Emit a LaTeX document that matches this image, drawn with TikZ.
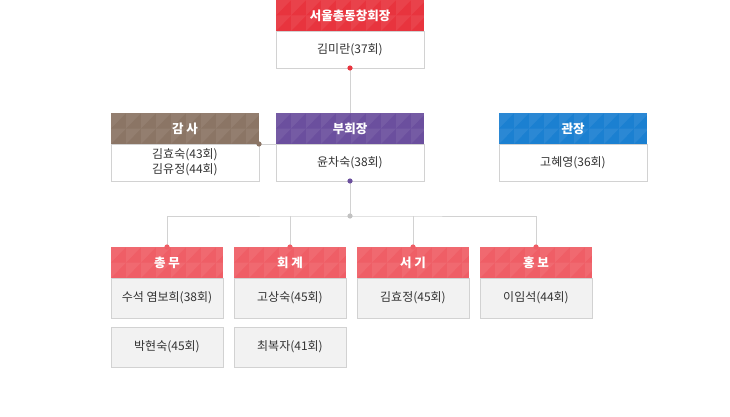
\documentclass[tikz,border=0pt]{standalone}
\usepackage{fontspec}
\setmainfont{Noto Sans CJK KR}
\usetikzlibrary{positioning,calc}
\definecolor{chairred}{RGB}{232,52,62}
\definecolor{auditbrown}{RGB}{139,117,101}
\definecolor{vicepurple}{RGB}{107,79,158}
\definecolor{directorblue}{RGB}{27,128,209}
\definecolor{teampink}{RGB}{239,94,102}
\definecolor{linegray}{RGB}{210,210,210}
\definecolor{boxgray}{RGB}{242,242,242}
\definecolor{namegray}{RGB}{51,51,51}

\tikzset{
  headbox/.style={minimum height=31pt, inner sep=0pt, outer sep=0pt,
    text=white, font=\fontsize{12.5}{14}\selectfont\bfseries,
    path picture={
      \foreach \i in {0,...,10}
        \foreach \j in {0,1}{
          \fill[white, opacity=0.07]
            ($(path picture bounding box.north west)+(\i*15pt,-\j*15.5pt)$)
            -- ++(15pt,0) -- ++(-15pt,-15.5pt) -- cycle;
        }
    }},
  bodybox/.style={draw=linegray, line width=0.8pt, fill=white, inner sep=0pt,
    outer sep=0pt, minimum height=37pt, align=center, text=namegray,
    font=\fontsize{12}{15}\selectfont},
  teambody/.style={bodybox, fill=boxgray, minimum width=112pt, minimum height=40pt},
  link/.style={draw=linegray, line width=0.8pt},
  dot/.style={radius=2.6pt}
}

\begin{document}
\begin{tikzpicture}[x=1pt, y=-1pt]
  \useasboundingbox (0,0) rectangle (730,417);

  % Chair
  \node[headbox, fill=chairred, minimum width=148pt] (chair) at (350,15.5) {서울총동창회장};
  \node[bodybox, minimum width=148pt, below=0pt of chair] (chairname) {김미란(37회)};

  % Second row
  \node[headbox, fill=auditbrown, minimum width=148pt] (audit) at (185,128.5) {감 사};
  \node[bodybox, minimum width=148pt, below=0pt of audit] (auditname) {김효숙(43회)\\김유정(44회)};
  \node[headbox, fill=vicepurple, minimum width=148pt] (vice) at (350,128.5) {부회장};
  \node[bodybox, minimum width=148pt, below=0pt of vice] (vicename) {윤차숙(38회)};
  \node[headbox, fill=directorblue, minimum width=148pt] (director) at (573,128.5) {관장};
  \node[bodybox, minimum width=148pt, below=0pt of director] (directorname) {고혜영(36회)};

  % Teams
  \node[headbox, fill=teampink, minimum width=112pt] (general) at (167,262.5) {총 무};
  \node[teambody, below=0pt of general] (generalname) {수석 염보희(38회)};
  \node[teambody, below=9pt of generalname] (generalname2) {박현숙(45회)};
  \node[headbox, fill=teampink, minimum width=112pt] (account) at (290,262.5) {회 계};
  \node[teambody, below=0pt of account] (accountname) {고상숙(45회)};
  \node[teambody, below=9pt of accountname] (accountname2) {최복자(41회)};
  \node[headbox, fill=teampink, minimum width=112pt] (secretary) at (413,262.5) {서 기};
  \node[teambody, below=0pt of secretary] (secretaryname) {김효정(45회)};
  \node[headbox, fill=teampink, minimum width=112pt] (promo) at (536,262.5) {홍 보};
  \node[teambody, below=0pt of promo] (promoname) {이임석(44회)};

  % Connectors
  \coordinate (hub) at (350,216);
  \draw[link] (chairname.south) -- (vice.north);
  \draw[link] (audit.south east) -- (vice.south west);
  \draw[link] (vicename.south) -- (hub);
  \draw[link] (general.north) |- (hub) -| (promo.north);
  \draw[link] (account.north) -- (account.north |- hub);
  \draw[link] (secretary.north) -- (secretary.north |- hub);

  % Joint dots
  \fill[chairred] (chairname.south) circle[dot];
  \fill[auditbrown] (audit.south east) circle[dot];
  \fill[vicepurple] (vicename.south) circle[dot];
  \fill[linegray!80!gray] (hub) circle[dot];
  \foreach \t in {general, account, secretary, promo}
    \fill[teampink] (\t.north) circle[dot];
\end{tikzpicture}
\end{document}
